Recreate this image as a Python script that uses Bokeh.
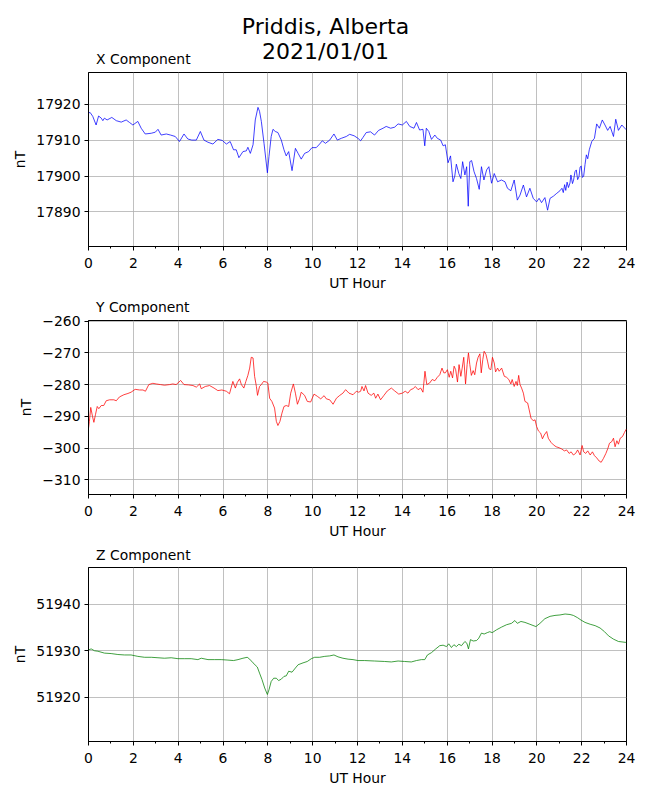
from bokeh.plotting import figure
from bokeh.models import Range1d, SingleIntervalTicker, CustomJSTickFormatter
from bokeh.core.properties import value
from bokeh.layouts import column
from bokeh.embed import file_html
from bokeh.resources import INLINE

# ---------------- data ----------------
hours_x = [0.0, 0.07, 0.19, 0.34, 0.45, 0.57, 0.64, 0.71, 0.83, 1.04, 1.24, 1.46, 1.68, 1.83, 1.98,
           2.2, 2.35, 2.53, 2.8, 2.98, 3.1, 3.24, 3.47, 3.66, 3.87, 4.06, 4.26, 4.43, 4.61, 4.81,
           4.99, 5.15, 5.33, 5.55, 5.77, 5.97, 6.15, 6.32, 6.47, 6.59, 6.71, 6.89, 7.04, 7.11, 7.22,
           7.34, 7.44, 7.56, 7.63, 7.71, 7.83, 7.98, 8.05, 8.15, 8.23, 8.33, 8.45, 8.6, 8.72, 8.82,
           8.93, 9.08, 9.23, 9.35, 9.49, 9.64, 9.82, 9.97, 10.16, 10.31, 10.43, 10.57, 10.76, 10.95,
           11.1, 11.28, 11.5, 11.65, 11.85, 12.02, 12.14, 12.24, 12.39, 12.58, 12.76, 12.94, 13.14,
           13.28, 13.48, 13.66, 13.81, 14.0, 14.18, 14.33, 14.52, 14.63, 14.77, 14.92, 15.0, 15.07,
           15.18, 15.3, 15.45, 15.56, 15.71, 15.82, 15.92, 16.04, 16.15, 16.26, 16.34, 16.41, 16.52,
           16.61, 16.69, 16.79, 16.87, 16.94, 17.01, 17.09, 17.2, 17.31, 17.43, 17.53, 17.64, 17.76,
           17.86, 17.98, 18.1, 18.25, 18.42, 18.58, 18.69, 18.84, 18.99, 19.13, 19.25, 19.4, 19.54,
           19.69, 19.84, 19.99, 20.1, 20.21, 20.36, 20.48, 20.59, 20.74, 20.89, 21.03, 21.12, 21.18,
           21.24, 21.29, 21.35, 21.41, 21.48, 21.52, 21.59, 21.64, 21.7, 21.76, 21.82, 21.88, 21.93,
           21.98, 22.03, 22.09, 22.15, 22.21, 22.27, 22.34, 22.45, 22.57, 22.67, 22.79, 22.92, 23.04,
           23.16, 23.27, 23.42, 23.52, 23.64, 23.79, 23.97, 24.0]
x_nt = [17917.5, 17917.7, 17916.6, 17914.2, 17916.7, 17916.1, 17915.4, 17916.1, 17915.6, 17916.3,
        17915.4, 17915.0, 17915.6, 17914.9, 17914.2, 17915.2, 17913.3, 17911.7, 17911.9, 17912.2,
        17913.0, 17911.4, 17911.7, 17911.4, 17911.0, 17909.6, 17911.7, 17910.3, 17910.0, 17910.0,
        17912.4, 17910.0, 17909.4, 17908.9, 17910.2, 17909.9, 17908.9, 17909.6, 17907.3, 17907.3,
        17905.1, 17906.8, 17907.0, 17908.0, 17906.3, 17908.7, 17915.6, 17919.1, 17918.0, 17915.2,
        17909.1, 17900.9, 17905.4, 17911.0, 17913.0, 17912.4, 17912.1, 17910.0, 17907.3, 17905.6,
        17906.8, 17901.5, 17907.7, 17906.3, 17904.7, 17906.3, 17906.8, 17907.9, 17907.9, 17908.9,
        17909.8, 17909.1, 17910.0, 17911.7, 17910.0, 17910.5, 17911.0, 17911.6, 17911.2, 17910.5,
        17909.8, 17910.7, 17912.1, 17912.3, 17911.4, 17912.7, 17913.3, 17913.8, 17913.3, 17913.6,
        17914.5, 17914.2, 17915.2, 17913.8, 17913.3, 17914.9, 17912.8, 17913.0, 17908.4, 17913.3,
        17912.4, 17910.2, 17911.4, 17910.5, 17910.0, 17908.4, 17908.7, 17903.7, 17905.6, 17898.4,
        17900.0, 17903.3, 17900.7, 17899.3, 17904.0, 17900.3, 17902.6, 17891.6, 17904.0, 17904.3,
        17901.2, 17899.3, 17896.3, 17902.6, 17898.9, 17901.7, 17902.6, 17898.0, 17900.7, 17898.4,
        17898.9, 17898.4, 17896.6, 17895.9, 17898.9, 17893.3, 17894.7, 17897.5, 17894.2, 17896.6,
        17893.8, 17892.8, 17893.8, 17892.6, 17894.0, 17890.5, 17893.8, 17894.4, 17895.2, 17895.9,
        17896.6, 17895.4, 17897.6, 17896.0, 17898.3, 17896.8, 17898.1, 17900.3, 17897.9, 17898.9,
        17901.2, 17901.7, 17899.0, 17899.8, 17902.5, 17902.8, 17899.6, 17900.0, 17903.2, 17905.9,
        17904.8, 17907.3, 17909.6, 17910.5, 17914.5, 17913.3, 17915.6, 17914.2, 17912.7, 17913.8,
        17911.0, 17915.8, 17912.7, 17914.2, 17913.0, 17913.2, 17913.1]

hours_y = [0.0, 0.04, 0.1, 0.18, 0.24, 0.31, 0.39, 0.46, 0.57, 0.68, 0.79, 0.94, 1.13, 1.24, 1.38,
           1.58, 1.76, 1.9, 2.08, 2.28, 2.43, 2.54, 2.69, 2.87, 3.02, 3.21, 3.39, 3.62, 3.76, 3.91,
           4.11, 4.26, 4.46, 4.66, 4.81, 4.96, 5.03, 5.21, 5.4, 5.6, 5.77, 5.95, 6.15, 6.29, 6.44,
           6.55, 6.64, 6.74, 6.82, 6.93, 7.02, 7.11, 7.19, 7.26, 7.34, 7.41, 7.49, 7.54, 7.63, 7.71,
           7.81, 7.93, 8.0, 8.08, 8.18, 8.3, 8.38, 8.45, 8.54, 8.63, 8.72, 8.82, 8.93, 9.02, 9.14,
           9.23, 9.32, 9.42, 9.49, 9.64, 9.76, 9.91, 10.06, 10.21, 10.36, 10.51, 10.61, 10.76, 10.91,
           11.06, 11.21, 11.35, 11.47, 11.62, 11.8, 11.95, 12.05, 12.14, 12.2, 12.29, 12.36, 12.47,
           12.61, 12.73, 12.81, 12.91, 13.03, 13.18, 13.33, 13.51, 13.66, 13.84, 14.0, 14.13, 14.25,
           14.37, 14.48, 14.58, 14.7, 14.82, 14.92, 15.01, 15.09, 15.22, 15.33, 15.45, 15.56, 15.67,
           15.77, 15.85, 15.92, 16.01, 16.09, 16.16, 16.24, 16.31, 16.38, 16.46, 16.53, 16.61, 16.67,
           16.74, 16.82, 16.89, 16.95, 17.01, 17.08, 17.16, 17.23, 17.31, 17.38, 17.46, 17.52, 17.59,
           17.65, 17.73, 17.8, 17.87, 17.95, 18.02, 18.1, 18.16, 18.25, 18.32, 18.43, 18.55, 18.65,
           18.75, 18.84, 18.9, 18.99, 19.07, 19.13, 19.19, 19.25, 19.32, 19.4, 19.47, 19.59, 19.66,
           19.74, 19.84, 19.92, 19.99, 20.07, 20.17, 20.25, 20.33, 20.44, 20.51, 20.63, 20.74, 20.86,
           20.99, 21.11, 21.23, 21.33, 21.44, 21.53, 21.63, 21.73, 21.82, 21.93, 22.02, 22.09, 22.18,
           22.27, 22.38, 22.48, 22.57, 22.67, 22.78, 22.87, 22.97, 23.08, 23.17, 23.24, 23.34, 23.42,
           23.49, 23.57, 23.64, 23.72, 23.82, 23.91, 23.97, 24.0]
y_nt = [-293.8, -291.6, -287.2, -290.1, -291.9, -289.5, -286.9, -287.6, -286.6, -286.6, -285.1,
        -284.8, -284.8, -285.1, -283.9, -283.2, -282.8, -282.4, -281.5, -281.7, -281.7, -282.1,
        -280.0, -279.6, -279.8, -280.0, -280.2, -280.0, -279.8, -280.0, -278.7, -280.0, -280.1,
        -280.3, -280.8, -279.8, -281.3, -280.6, -280.3, -281.1, -281.9, -281.7, -282.1, -282.9,
        -279.0, -281.1, -279.3, -278.2, -280.0, -281.1, -279.0, -277.1, -274.8, -271.4, -271.6,
        -277.4, -280.6, -283.4, -280.6, -280.0, -279.0, -279.2, -279.5, -284.3, -285.3, -287.4,
        -291.6, -292.9, -291.6, -289.0, -286.9, -286.6, -286.9, -282.7, -279.8, -282.7, -286.2,
        -284.3, -282.4, -283.4, -285.3, -285.5, -283.0, -283.7, -284.5, -283.5, -284.5, -284.8,
        -286.2, -284.3, -283.4, -282.7, -281.6, -282.7, -283.2, -282.1, -282.4, -282.1, -280.6,
        -282.0, -280.3, -282.7, -283.4, -282.7, -284.3, -283.0, -284.8, -283.4, -282.0, -281.1,
        -282.0, -283.0, -282.7, -282.1, -282.7, -281.6, -281.3, -280.6, -281.6, -281.1, -282.4,
        -275.8, -280.0, -279.5, -278.4, -278.8, -277.7, -276.9, -274.8, -276.3, -276.3, -275.3,
        -277.7, -275.8, -277.9, -274.2, -275.3, -279.2, -273.7, -277.4, -274.8, -271.4, -279.8,
        -273.7, -270.0, -273.7, -277.1, -275.6, -276.9, -273.2, -271.4, -270.3, -276.3, -272.1,
        -269.5, -270.5, -272.6, -275.0, -275.3, -271.4, -273.2, -276.0, -274.8, -275.8, -274.8,
        -277.4, -277.7, -278.4, -279.8, -278.4, -280.6, -279.0, -280.3, -277.1, -280.0, -281.1,
        -282.7, -285.3, -285.8, -288.0, -290.6, -291.4, -291.1, -293.2, -294.6, -295.3, -297.1,
        -295.9, -294.8, -296.9, -298.2, -299.0, -299.6, -299.9, -300.3, -300.9, -300.6, -301.7,
        -301.2, -302.2, -301.7, -300.6, -302.2, -299.2, -301.2, -301.7, -300.9, -302.2, -301.2,
        -302.4, -303.1, -304.1, -304.5, -303.3, -301.7, -300.1, -298.5, -298.0, -296.9, -299.6,
        -297.7, -298.8, -296.9, -296.4, -295.1, -294.3, -294.0]

hours_z = [0.0, 0.12, 0.27, 0.42, 0.71, 1.01, 1.31, 1.61, 1.9, 2.2, 2.5, 2.8, 3.1, 3.39, 3.69, 3.99,
           4.29, 4.58, 4.88, 5.03, 5.33, 5.63, 5.92, 6.22, 6.47, 6.67, 6.89, 7.08, 7.19, 7.34, 7.53,
           7.63, 7.74, 7.86, 7.98, 8.05, 8.15, 8.26, 8.38, 8.48, 8.6, 8.72, 8.82, 8.93, 9.08, 9.23,
           9.35, 9.57, 9.76, 9.94, 10.09, 10.31, 10.54, 10.76, 10.95, 11.13, 11.35, 11.58, 11.8,
           12.02, 12.32, 12.76, 13.21, 13.51, 13.81, 14.1, 14.4, 14.63, 14.85, 15.0, 15.12, 15.3,
           15.49, 15.67, 15.82, 15.97, 16.07, 16.19, 16.3, 16.41, 16.52, 16.64, 16.79, 16.88, 16.95,
           17.04, 17.16, 17.31, 17.41, 17.53, 17.65, 17.79, 17.9, 18.01, 18.2, 18.43, 18.65, 18.87,
           19.02, 19.13, 19.29, 19.47, 19.69, 19.96, 20.14, 20.36, 20.59, 20.81, 21.03, 21.26, 21.48,
           21.63, 21.82, 21.97, 22.15, 22.38, 22.6, 22.82, 23.02, 23.2, 23.42, 23.64, 23.97, 24.0]
z_nt = [51930.2, 51930.4, 51930.0, 51929.9, 51929.5, 51929.4, 51929.2, 51929.1, 51929.1, 51928.8,
        51928.6, 51928.6, 51928.5, 51928.4, 51928.5, 51928.3, 51928.3, 51928.3, 51928.1, 51928.4,
        51928.1, 51928.1, 51928.1, 51928.0, 51927.9, 51928.1, 51928.4, 51928.6, 51928.2, 51927.4,
        51926.5, 51925.2, 51923.8, 51922.0, 51920.6, 51921.6, 51923.4, 51924.1, 51924.1, 51923.6,
        51923.9, 51924.5, 51924.6, 51925.6, 51925.4, 51926.3, 51927.0, 51927.4, 51927.7, 51928.3,
        51928.6, 51928.6, 51928.8, 51928.9, 51929.1, 51928.7, 51928.4, 51928.2, 51928.1, 51927.9,
        51927.9, 51927.8, 51927.7, 51927.6, 51927.8, 51927.7, 51927.6, 51927.9, 51928.1, 51928.1,
        51929.1, 51929.6, 51930.4, 51931.1, 51931.2, 51930.9, 51931.5, 51930.7, 51931.3, 51930.9,
        51931.4, 51931.1, 51932.0, 51931.6, 51930.4, 51932.4, 51932.1, 51932.2, 51932.7, 51933.8,
        51933.6, 51933.9, 51934.1, 51933.9, 51934.5, 51935.1, 51935.6, 51935.9, 51936.5, 51935.9,
        51936.3, 51936.1, 51935.7, 51935.2, 51935.9, 51936.9, 51937.4, 51937.6, 51937.7, 51937.9,
        51937.8, 51937.6, 51937.1, 51936.6, 51936.1, 51935.7, 51935.4, 51934.9, 51934.1, 51933.2,
        51932.5, 51932.0, 51931.8, 51931.8]

main_title = ["Priddis, Alberta", "2021/01/01"]
panel_titles = ["X Component", "Y Component", "Z Component"]
x_label = "UT Hour"
y_label = "nT"

FONT = "DejaVu Sans"
TICK_FS = "13.9px"
W = 650
LEFT, RIGHT = 88, 24   # frame borders (frame spans page x 88..626)


def header_strip(height, items):
    """Blank strip whose data coordinates equal page pixels (y downward)."""
    s = figure(width=W, height=height, x_range=Range1d(LEFT, W - RIGHT), y_range=Range1d(height, 0),
               x_axis_type=None, y_axis_type=None,
               min_border_left=LEFT, min_border_right=RIGHT, min_border_top=0, min_border_bottom=0,
               output_backend="svg", toolbar_location=None)
    s.outline_line_color = None
    s.background_fill_color = "white"
    s.border_fill_color = "white"
    for (tx, ty, txt, size, align) in items:
        s.text(x=[tx], y=[ty], text=[txt], text_font=value(FONT), text_font_size=value(size),
               text_color="black", text_align=align, text_baseline="middle")
    return s


def make_panel(hours, vals, color, yr, height, top, bottom, title=None, standoff=0):
    p = figure(width=W, height=height, min_border_left=LEFT, min_border_right=RIGHT,
               min_border_top=top, min_border_bottom=bottom,
               x_range=Range1d(0, 24), y_range=Range1d(*yr),
               output_backend="svg", toolbar_location=None)
    p.background_fill_color = "white"
    p.border_fill_color = "white"
    p.outline_line_color = "black"
    p.outline_line_width = 1
    p.outline_line_alpha = 1

    if title is not None:
        p.title.text = title
        p.title.align = "left"
        p.title.offset = 7.5
        p.title.vertical_align = "top"
        p.title.standoff = standoff
        p.title.text_font = FONT
        p.title.text_font_size = TICK_FS
        p.title.text_font_style = "normal"
        p.title.text_color = "black"

    p.xaxis.ticker = SingleIntervalTicker(interval=2, num_minor_ticks=2)
    p.yaxis.ticker = SingleIntervalTicker(interval=10, num_minor_ticks=0)
    p.yaxis.formatter = CustomJSTickFormatter(
        code="return (tick < 0 ? '\\u2212' : '') + Math.abs(Math.round(tick)).toString();")
    p.xaxis.formatter = CustomJSTickFormatter(code="return Math.round(tick).toString();")

    for ax in (p.xaxis[0], p.yaxis[0]):
        ax.axis_line_color = "black"
        ax.major_tick_line_color = "black"
        ax.minor_tick_line_color = "black"
        ax.major_tick_out = 4
        ax.major_tick_in = 0
        ax.minor_tick_out = 2
        ax.minor_tick_in = 0
        ax.major_label_text_font = FONT
        ax.major_label_text_font_size = TICK_FS
        ax.major_label_text_color = "black"
        ax.axis_label_text_font = FONT
        ax.axis_label_text_font_size = TICK_FS
        ax.axis_label_text_font_style = "normal"
        ax.axis_label_text_color = "black"
    p.xaxis.major_label_standoff = 7
    p.yaxis.major_label_standoff = 4
    p.xaxis.axis_label = x_label
    p.yaxis.axis_label = y_label
    p.xaxis.axis_label_standoff = 4
    p.yaxis.axis_label_standoff = 5

    p.grid.grid_line_color = "#b0b0b0"
    p.grid.grid_line_width = 0.8

    p.line(hours, vals, line_color=color, line_width=0.75)
    return p


# texts centred vertically on (baseline - 0.346 em)
header = header_strip(71, [(325, 26.1, main_title[0], "22px", "center"),
                           (325, 50.7, main_title[1], "22px", "center"),
                           (95.5, 58.4, panel_titles[0], TICK_FS, "left")])
p1 = make_panel(hours_x, x_nt, "#0000ff", (17880.4, 17928.8), 224, 1, 49)
p2 = make_panel(hours_y, y_nt, "#ff0000", (-314.65, -259.8), 249, 25, 50,
                title=panel_titles[1], standoff=6.5)
p3 = make_panel(hours_z, z_nt, "#008000", (51910.5, 51947.9), 251, 23, 54,
                title=panel_titles[2], standoff=4.5)

layout = column(header, p1, p2, p3, spacing=0)
open("out.html", "w").write(file_html(layout, INLINE))
